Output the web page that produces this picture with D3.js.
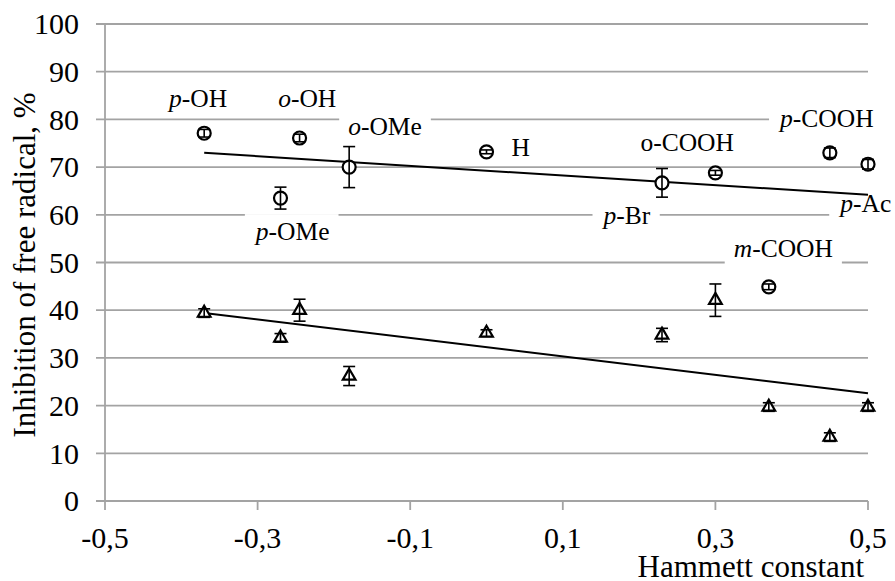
<!DOCTYPE html>
<html>
<head>
<meta charset="utf-8">
<script src="https://cdn.jsdelivr.net/npm/d3@7"></script>
<style>
    body { margin: 0; background: #fff; }
</style>
</head>
<body>
<div id="vis"></div>
<script>
// Hammett constant (sigma) for each substituent
var sigmaTop = [-0.37, -0.245, -0.18, -0.27, 0, 0.23, 0.30, 0.37, 0.45, 0.5];
var inhibTop = [77.1, 76.1, 70.0, 63.5, 73.2, 66.7, 68.8, 44.9, 73.0, 70.6];
var errTop = [0.8, 0.8, 4.3, 2.3, 0.4, 3.0, 0.5, 0.6, 1.0, 1.0];

var sigmaBottom = [-0.37, -0.27, -0.245, -0.18, 0, 0.23, 0.30, 0.37, 0.45, 0.5];
var inhibBottom = [39.4, 34.2, 40.0, 26.2, 35.2, 34.8, 42.1, 19.7, 13.4, 19.7];
var errBottom = [0.9, 0.9, 2.3, 2.0, 0.7, 1.4, 3.4, 0.9, 0.9, 0.9];

// linear trends (start / end values)
var trendTop = [[-0.37, 73.0], [0.5, 64.2]];
var trendBottom = [[-0.37, 39.4], [0.5, 22.6]];

// substituent labels, anchored in chart units
var labelPrefix = ['p', 'o', 'o', 'H', 'o', 'p', 'p', 'p', 'p', 'm'];
var labelRest = ['-OH', '-OH', '-OMe', '', '-COOH', '-COOH', '-Ac', '-Br', '-OMe', '-COOH'];
var labelItalic = [true, true, true, false, false, true, true, true, true, true];
var labelX = [-0.378, -0.235, -0.133, 0.045, 0.263, 0.446, 0.497, 0.184, -0.254, 0.389];
var labelY = [82.6, 82.6, 76.7, 72.3, 73.4, 78.4, 60.6, 58.1, 54.7, 51.2];

var xTicks = [-0.5, -0.3, -0.1, 0.1, 0.3, 0.5];
var yTicks = [0, 10, 20, 30, 40, 50, 60, 70, 80, 90, 100];

var margin = { left: 105, right: 27, top: 24, bottom: 80 };
var W = 895, H = 581;
var width = W - margin.left - margin.right;
var height = H - margin.top - margin.bottom;
var gridColor = '#a3a3a3';
var serif = "'Liberation Serif'";

var svg = d3.select('#vis').append('svg')
    .attr('width', W)
    .attr('height', H);

var g = svg.append('g')
    .attr('transform', 'translate(' + margin.left + ',' + margin.top + ')');

var xScale = d3.scaleLinear().domain([-0.5, 0.5]).range([0, width]);
var yScale = d3.scaleLinear().domain([0, 100]).range([height, 0]);

/* ****** Grid + axes ****** */
g.selectAll('.grid').data(yTicks).enter()
    .append('line')
    .attr('x1', -9).attr('x2', width)
    .attr('y1', function (d) { return yScale(d); })
    .attr('y2', function (d) { return yScale(d); })
    .attr('stroke', gridColor)
    .attr('stroke-width', 1.8);

g.append('line')
    .attr('x1', 0).attr('x2', 0)
    .attr('y1', yScale(100)).attr('y2', yScale(0))
    .attr('stroke', gridColor)
    .attr('stroke-width', 1.8);

g.selectAll('.xtick').data(xTicks).enter()
    .append('line')
    .attr('x1', function (d) { return xScale(d); })
    .attr('x2', function (d) { return xScale(d); })
    .attr('y1', height).attr('y2', height + 9)
    .attr('stroke', gridColor)
    .attr('stroke-width', 1.8);

var fmt = function (d) { return d3.format('.1f')(d).replace('.', ',').replace('\u2212', '-'); };

g.selectAll('.xlab').data(xTicks).enter()
    .append('text')
    .attr('x', function (d) { return xScale(d); })
    .attr('y', height + 47)
    .attr('text-anchor', 'middle')
    .style('font-family', serif)
    .style('font-size', '30px')
    .text(fmt);

g.selectAll('.ylab').data(yTicks).enter()
    .append('text')
    .attr('x', -26)
    .attr('y', function (d) { return yScale(d); })
    .attr('dy', '0.34em')
    .attr('text-anchor', 'end')
    .style('font-family', serif)
    .style('font-size', '30px')
    .text(function (d) { return d; });

svg.append('text')
    .attr('x', 864)
    .attr('y', 577)
    .attr('text-anchor', 'end')
    .style('font-family', serif)
    .style('font-size', '31px')
    .text('Hammett constant');

svg.append('text')
    .attr('transform', 'translate(35,265) rotate(-90)')
    .attr('text-anchor', 'middle')
    .style('font-family', serif)
    .style('font-size', '31px')
    .text('Inhibition of free radical, %');

/* ****** Labels (white boxes hide the grid) ****** */
var boxes = g.append('g');
var labels = g.append('g');

labelRest.forEach(function (rest, i) {
    var t = labels.append('text')
        .attr('x', xScale(labelX[i]))
        .attr('y', yScale(labelY[i]))
        .attr('text-anchor', 'middle')
        .style('font-family', serif)
        .style('font-size', '25.5px');
    t.append('tspan')
        .style('font-style', labelItalic[i] ? 'italic' : 'normal')
        .text(labelPrefix[i]);
    t.append('tspan').text(rest);
    var bb = t.node().getBBox();
    boxes.append('rect')
        .attr('x', bb.x - 9).attr('y', bb.y - 3)
        .attr('width', bb.width + 18).attr('height', bb.height + 6)
        .attr('fill', '#fff');
});

/* ****** Trend lines ****** */
var line = d3.line()
    .x(function (d) { return xScale(d[0]); })
    .y(function (d) { return yScale(d[1]); });

[trendTop, trendBottom].forEach(function (tr) {
    g.append('path')
        .attr('d', line(tr))
        .attr('fill', 'none')
        .attr('stroke', '#000')
        .attr('stroke-width', 2);
});

/* ****** Points + error bars ****** */
var topData = sigmaTop.map(function (s, i) { return { x: s, y: inhibTop[i], e: errTop[i] }; });
var bottomData = sigmaBottom.map(function (s, i) { return { x: s, y: inhibBottom[i], e: errBottom[i] }; });

g.selectAll('.circ').data(topData).enter()
    .append('circle')
    .attr('cx', function (d) { return xScale(d.x); })
    .attr('cy', function (d) { return yScale(d.y); })
    .attr('r', 6.5)
    .attr('fill', '#fff')
    .attr('stroke', '#000')
    .attr('stroke-width', 2.2);

var tri = d3.symbol().type(d3.symbolTriangle).size(70);
g.selectAll('.tri').data(bottomData).enter()
    .append('path')
    .attr('d', tri)
    .attr('transform', function (d) { return 'translate(' + xScale(d.x) + ',' + yScale(d.y) + ')'; })
    .attr('fill', '#fff')
    .attr('stroke', '#000')
    .attr('stroke-width', 2.2);

var drawErr = function (data) {
    data.forEach(function (d) {
        var cx = xScale(d.x);
        var y0 = yScale(d.y - d.e), y1 = yScale(d.y + d.e);
        g.append('line')
            .attr('x1', cx).attr('x2', cx).attr('y1', y0).attr('y2', y1)
            .attr('stroke', '#000').attr('stroke-width', 1.6);
        [y0, y1].forEach(function (yy) {
            g.append('line')
                .attr('x1', cx - 6).attr('x2', cx + 6).attr('y1', yy).attr('y2', yy)
                .attr('stroke', '#000').attr('stroke-width', 1.6);
        });
    });
};
drawErr(topData);
drawErr(bottomData);
</script>
</body>
</html>
